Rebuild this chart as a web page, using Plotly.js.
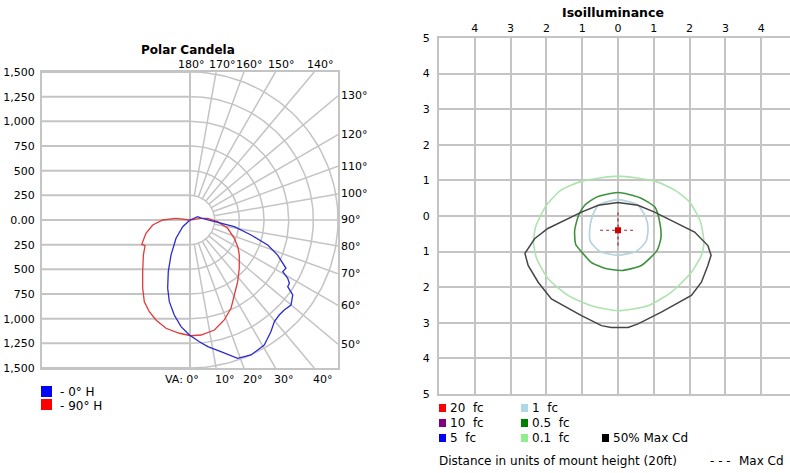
<!DOCTYPE html>
<html><head><meta charset="utf-8">
<script src="https://cdn.plot.ly/plotly-3.0.1.min.js"></script>
<style>html,body{margin:0;padding:0;overflow:hidden;background:#fff}#chart{width:800px;height:473px}</style>
</head><body><div id="chart"></div>
<script>
// ---------- Polar Candela data (VA in degrees; negative = left half) ----------
const blueVA = [-90, -47.5, -37.4, -28.5, -22.8, -18.1, -14.2, -9.4, -4.8, -0.3, 4.4, 8.0, 13.2, 19.0, 24.3, 30.7, 35.9, 39.7, 43.2, 46.3, 49.9, 53.9, 55.7, 57.5, 59.2, 60.9, 63.3, 65.0, 68.2, 72.2, 76.2, 81.4, 83.9, 90, 100, 113, 180];
const blueCd = [0, 100, 233, 404, 568, 728, 854, 976, 1085, 1166, 1237, 1296, 1371, 1483, 1501, 1474, 1398, 1339, 1321, 1321, 1338, 1289, 1199, 1194, 1153, 1076, 1089, 1037, 957, 827, 637, 454, 316, 175, 115, 85, 0];
const redVA = [-180, -96.9, -90, -82.4, -73.2, -65.1, -63.2, -60.2, -53.1, -42.5, -34.7, -29.2, -23.9, -18.8, -12.5, -5.4, 0.5, 5.5, 12.5, 18.9, 24.9, 30.6, 37.7, 45.6, 54.6, 58.0, 60.8, 67.6, 77.6, 86.5, 95.5, 98.8, 180];
const redCd = [0, 143, 277, 381, 466, 522, 548, 525, 591, 710, 842, 949, 1017, 1070, 1124, 1153, 1173, 1171, 1142, 1071, 987, 883, 790, 699, 613, 580, 554, 486, 391, 281, 180, 113, 0];

const candelaTicks = [-1500, -1250, -1000, -750, -500, -250, 0, 250, 500, 750, 1000, 1250, 1500];
const candelaTickText = ['1,500', '1,250', '1,000', '750', '500', '250', '0.00', '250', '500', '750', '1,000', '1,250', '1,500'];
const ringValues = [250, 500, 750, 1000, 1250, 1500];
const radialAngles = [10, 20, 30, 40, 50, 60, 70, 80, 90, 100, 110, 120, 130, 140, 150, 160, 170];
const topAngleLabels = [180, 170, 160, 150, 140];
const rightAngleLabels = [130, 120, 110, 100, 90, 80, 70, 60, 50];
const bottomAngleLabels = [0, 10, 20, 30, 40];

// ---------- Isoilluminance data (units of mount height) ----------
const fc01X = [0, 1.03, 1.6, 2.0, 2.3, 2.4, 2.33, 2.05, 1.49, 0.84, 0, -0.74, -1.4, -1.95, -2.27, -2.36, -2.3, -2.0, -1.6, -1.0];
const fc01Y = [1.12, 0.98, 0.72, 0.39, -0.15, -0.75, -1.1, -1.58, -2.14, -2.52, -2.66, -2.52, -2.23, -1.76, -1.2, -0.75, -0.3, 0.3, 0.72, 0.98];
const fc05X = [0, 0.6, 1.03, 1.17, 1.2, 1.1, 0.65, 0.1, -0.37, -0.75, -0.98, -1.18, -1.21, -1.1, -0.93, -0.6];
const fc05Y = [0.66, 0.52, 0.25, -0.2, -0.6, -0.95, -1.39, -1.53, -1.47, -1.3, -1.05, -0.8, -0.4, 0.02, 0.3, 0.53];
const fc1X = [0, 0.56, 0.78, 0.84, 0.78, 0.5, 0, -0.5, -0.77, -0.79, -0.72, -0.55];
const fc1Y = [0.46, 0.3, -0.05, -0.36, -0.72, -1.0, -1.1, -1.0, -0.72, -0.36, -0.02, 0.3];
const halfMaxX = [0, 0.56, 1.02, 1.58, 2.14, 2.51, 2.6, 2.51, 2.33, 2.05, 1.21, 0.56, 0.28, -0.19, -0.46, -1.02, -1.86, -2.23, -2.51, -2.6, -2.33, -1.96, -1.49, -1.02, -0.55];
const halfMaxY = [0.38, 0.3, 0.11, -0.17, -0.45, -0.83, -1.1, -1.39, -1.86, -2.23, -2.7, -3.03, -3.13, -3.13, -3.08, -2.8, -2.33, -1.86, -1.39, -1.05, -0.64, -0.35, -0.12, 0.11, 0.3];
const maxCdX = [0];
const maxCdY = [-0.4];
const isoTicks = [-5, -4, -3, -2, -1, 0, 1, 2, 3, 4, 5];
const isoTickText = ['5', '4', '3', '2', '1', '0', '1', '2', '3', '4', '5'];

// ---------- helpers ----------
const W = 800, H = 473;
const fx = p => p / W, fy = p => 1 - p / H;
const rad = d => d * Math.PI / 180;
const FONT = 'DejaVu Sans';
const GRID = '#c4c4c4';
const NB = '\u00a0';
const close = a => a.concat([a[0]]);
const polarX = (va, cd) => va.map((v, i) => cd[i] * Math.sin(rad(v)));
const polarY = (va, cd) => va.map((v, i) => -cd[i] * Math.cos(rad(v)));

// ---------- left grid traces ----------
const gx = [], gy = [];
candelaTicks.forEach(v => { gx.push(-1500, 0, null); gy.push(v, v, null); });
gx.push(0, 0, null); gy.push(-1500, 1500, null);
const ax = [], ay = [];
ringValues.forEach(r => {
  for (let a = 0; a <= 180; a += 2) { ax.push(r * Math.sin(rad(a))); ay.push(-r * Math.cos(rad(a))); }
  ax.push(null); ay.push(null);
});
radialAngles.forEach(a => {
  const s = Math.sin(rad(a)), c = Math.cos(rad(a));
  const L = 1500 / Math.max(Math.abs(s), Math.abs(c));
  ax.push(ringValues[0] * s, L * s, null); ay.push(-ringValues[0] * c, -L * c, null);
});

const traces = [
  {x: gx, y: gy, mode: 'lines', line: {color: GRID, width: 2}, xaxis: 'x', yaxis: 'y', hoverinfo: 'skip'},
  {x: ax, y: ay, mode: 'lines', line: {color: GRID, width: 1.5}, xaxis: 'x', yaxis: 'y', hoverinfo: 'skip'},
  {x: polarX(redVA, redCd), y: polarY(redVA, redCd), mode: 'lines', line: {color: '#e03a3a', width: 1.3}, xaxis: 'x', yaxis: 'y', name: '- 90° H'},
  {x: polarX(blueVA, blueCd), y: polarY(blueVA, blueCd), mode: 'lines', line: {color: '#2b2bd0', width: 1.3}, xaxis: 'x', yaxis: 'y', name: '- 0° H'},
  // isoilluminance
  {x: close(fc01X), y: close(fc01Y), mode: 'lines', line: {color: '#aee3ae', width: 1.6, shape: 'spline', smoothing: 0.6}, xaxis: 'x2', yaxis: 'y2', name: '0.1 fc'},
  {x: close(fc05X), y: close(fc05Y), mode: 'lines', line: {color: '#3f913f', width: 1.6, shape: 'spline', smoothing: 0.6}, xaxis: 'x2', yaxis: 'y2', name: '0.5 fc'},
  {x: close(fc1X), y: close(fc1Y), mode: 'lines', line: {color: '#b6d3de', width: 1.7, shape: 'spline', smoothing: 0.6}, xaxis: 'x2', yaxis: 'y2', name: '1 fc'},
  {x: close(halfMaxX), y: close(halfMaxY), mode: 'lines', line: {color: '#454545', width: 1.5}, xaxis: 'x2', yaxis: 'y2', name: '50% Max Cd'},
  {x: [maxCdX[0] - 0.5, maxCdX[0] + 0.5], y: [maxCdY[0], maxCdY[0]], mode: 'lines', line: {color: '#a02828', width: 1.2, dash: '3px,3px'}, xaxis: 'x2', yaxis: 'y2'},
  {x: [maxCdX[0], maxCdX[0]], y: [maxCdY[0] + 0.5, maxCdY[0] - 0.5], mode: 'lines', line: {color: '#a02828', width: 1.2, dash: '3px,3px'}, xaxis: 'x2', yaxis: 'y2'},
  {x: maxCdX, y: maxCdY, mode: 'markers', marker: {symbol: 'square', size: 6, color: '#d00000'}, xaxis: 'x2', yaxis: 'y2', name: 'Max Cd'}
];

// ---------- annotations ----------
const ann = [];
const txt = (x, y, text, o) => Object.assign({xref: 'paper', yref: 'paper', x: fx(x), y: fy(y), text: text, showarrow: false, xanchor: 'left', yanchor: 'middle', font: {family: FONT, size: 12, color: '#000'}}, o || {});
ann.push(txt(188, 50, '<b>Polar Candela</b>', {xanchor: 'center', font: {family: FONT, size: 12, color: '#000'}}));
ann.push(txt(613, 13, '<b>Isoilluminance</b>', {xanchor: 'center', font: {family: FONT, size: 12.5, color: '#000'}}));
topAngleLabels.forEach(a => ann.push({xref: 'x', yref: 'y', x: 1500 * Math.tan(rad(180 - a)), y: 1500, text: a + '°', showarrow: false, xanchor: 'center', yanchor: 'middle', yshift: 7, xshift: a === 180 ? 1 : 6, font: {family: FONT, size: 11, color: '#000'}}));
rightAngleLabels.forEach(a => ann.push({xref: 'x', yref: 'y', x: 1500, y: -1500 * Math.cos(rad(a)) / Math.sin(rad(a)), text: a + '°', showarrow: false, xanchor: 'left', yanchor: 'middle', xshift: 1, font: {family: FONT, size: 11, color: '#000'}}));
bottomAngleLabels.forEach(a => ann.push({xref: 'x', yref: 'y', x: 1500 * Math.tan(rad(a)), y: -1500, text: a === 0 ? 'VA: 0°' : a + '°', showarrow: false, xanchor: a === 0 ? 'right' : 'center', yanchor: 'middle', yshift: -11, xshift: a === 0 ? 11 : 9, font: {family: FONT, size: 11, color: '#000'}}));

// left legend
const shapes = [];
const sq = (x0, y0, x1, y1, c) => shapes.push({type: 'rect', xref: 'paper', yref: 'paper', x0: fx(x0), x1: fx(x1), y0: fy(y1), y1: fy(y0), fillcolor: c, line: {width: 0}});
sq(41, 386, 52, 397, '#0000ff');
sq(41, 399, 52, 410, '#ff0000');
ann.push(txt(58, 392, '- 0° H'));
ann.push(txt(58, 406, '- 90° H'));

// right legend
const leg = [
  [439, 408, '#ff0000', '20' + NB + NB + 'fc'], [521, 408, '#add8e6', '1' + NB + NB + 'fc'],
  [439, 423, '#800080', '10' + NB + NB + 'fc'], [521, 423, '#008000', '0.5' + NB + NB + 'fc'],
  [439, 438, '#0000ff', '5' + NB + NB + 'fc'], [521, 438, '#90ee90', '0.1' + NB + NB + 'fc'], [602, 438, '#000000', '50% Max Cd']
];
leg.forEach(l => { sq(l[0], l[1] - 4, l[0] + 7, l[1] + 4, l[2]); ann.push(txt(l[0] + 9, l[1], l[3])); });
ann.push(txt(437, 461, 'Distance in units of mount height (20ft)'));
ann.push(txt(708, 461, '- - -'));
ann.push(txt(737, 461, 'Max Cd'));

const axBase = {showgrid: false, zeroline: false, showline: true, mirror: true, linecolor: GRID, linewidth: 2, ticks: '', fixedrange: true, tickfont: {family: FONT, size: 11, color: '#000'}};
const layout = {
  width: W, height: H, margin: {l: 0, r: 0, t: 0, b: 0}, showlegend: false,
  paper_bgcolor: '#fff', plot_bgcolor: '#fff', font: {family: FONT, size: 11, color: '#000'},
  xaxis: Object.assign({}, axBase, {domain: [fx(42), fx(338)], range: [-1500, 1500], showticklabels: false, anchor: 'y'}),
  yaxis: Object.assign({}, axBase, {domain: [fy(368), fy(72)], range: [-1500, 1500], tickvals: candelaTicks, ticktext: candelaTickText, ticklabelstandoff: 3, anchor: 'x'}),
  xaxis2: Object.assign({}, axBase, {domain: [fx(439), fx(797)], range: [-5, 5], side: 'top', anchor: 'y2', tickvals: isoTicks.slice(1, -1), ticktext: isoTickText.slice(1, -1), showgrid: true, gridcolor: GRID, gridwidth: 2, ticklabelstandoff: 0}),
  yaxis2: Object.assign({}, axBase, {domain: [fy(394), fy(38)], range: [-5, 5], anchor: 'x2', tickvals: isoTicks, ticktext: isoTickText, showgrid: true, gridcolor: GRID, gridwidth: 2, ticklabelstandoff: 5}),
  annotations: ann, shapes: shapes
};
Plotly.newPlot('chart', traces, layout, {staticPlot: true, displayModeBar: false});
</script></body></html>
